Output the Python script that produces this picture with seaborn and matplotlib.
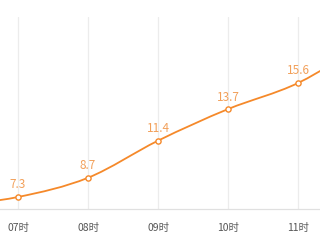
import numpy as np
import pandas as pd
import matplotlib
matplotlib.use("Agg")
import matplotlib.pyplot as plt
import seaborn as sns
from matplotlib.path import Path
from matplotlib.patches import PathPatch

hours = ["06时", "07时", "08时", "09时", "10时", "11时", "12时"]
temps = [6.6, 7.3, 8.7, 11.4, 13.7, 15.6, 18.6]
shown = ["07时", "08时", "09时", "10时", "11时"]

sns.set_style("white")
plt.rcParams['font.family'] = ['Noto Sans CJK SC', 'DejaVu Sans']

LINE = "#f5892a"
LABEL = "#f2a05a"

fig = plt.figure(figsize=(3.2, 2.4), dpi=100)
ax = fig.add_axes([0, 1 - 209 / 240, 1, (209 - 17) / 240])

df = pd.DataFrame({"x": np.arange(len(hours)), "hour": hours, "t": temps})

# smooth curve (Catmull-Rom as cubic Bezier) through the data points
xs = df["x"].to_numpy(float)
ys = df["t"].to_numpy(float)
verts = [(xs[0], ys[0])]
codes = [Path.MOVETO]
n = len(xs)
for i in range(n - 1):
    p0 = np.array([xs[max(i - 1, 0)], ys[max(i - 1, 0)]])
    p1 = np.array([xs[i], ys[i]])
    p2 = np.array([xs[i + 1], ys[i + 1]])
    p3 = np.array([xs[min(i + 2, n - 1)], ys[min(i + 2, n - 1)]])
    c1 = p1 + (p2 - p0) / 6.0
    c2 = p2 - (p3 - p1) / 6.0
    verts += [tuple(c1), tuple(c2), tuple(p2)]
    codes += [Path.CURVE4] * 3
ax.add_patch(PathPatch(Path(verts, codes), facecolor="none", edgecolor=LINE, lw=1.3, zorder=3))

sns.scatterplot(data=df, x="x", y="t", ax=ax, s=14, marker="o",
                facecolor="white", edgecolor=LINE, linewidth=1.0, zorder=4, legend=False)

for xi, yi, h in zip(xs, ys, hours):
    if h in shown:
        ax.annotate(f"{yi:.1f}", (xi, yi), xytext=(0, 4), textcoords="offset points",
                    ha="center", va="bottom", fontsize=8.5, color=LABEL, zorder=5)

shown_x = [xs[hours.index(h)] for h in shown]
ax.set_xticks(shown_x)
ax.set_xticklabels(shown)
ax.set_yticks([])
ax.set_xlim(1 - 18 / 70, 1 + 302 / 70)
ax.set_ylim(7.3 - 12 / 13.73, 15.6 + 66 / 13.73)
ax.tick_params(axis="x", length=0, pad=10, labelsize=7.5, labelcolor="#555555")
ax.set_xlabel("")
ax.set_ylabel("")
for xi in shown_x:
    ax.axvline(xi, color="#ececec", lw=0.9, zorder=1)
for s in ["left", "right", "top"]:
    ax.spines[s].set_visible(False)
ax.spines["bottom"].set_color("#e0e0e0")
ax.spines["bottom"].set_linewidth(0.9)

fig.savefig("out.png", dpi=100)
